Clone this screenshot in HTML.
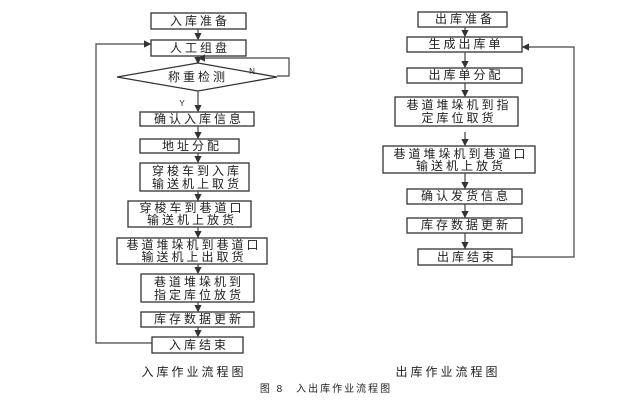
<!DOCTYPE html>
<html><head><meta charset="utf-8"><style>
html,body{margin:0;padding:0;background:#fff;}
svg{display:block;}
text{font-family:"Liberation Sans","Noto Sans CJK SC",sans-serif;font-size:12px;letter-spacing:3px;fill:#222;text-anchor:middle;}
.b{fill:#fff;stroke:#333;stroke-width:1.3;}
.l{stroke:#444;stroke-width:1.2;fill:none;}
</style></head><body>
<svg width="640" height="400" viewBox="0 0 640 400">
<defs><marker id="a" markerWidth="6" markerHeight="6" refX="5" refY="3" orient="auto"><path d="M0,0 L6,3 L0,6 Z" fill="#333"/></marker></defs>
<!-- LEFT -->
<rect class="b" x="151" y="13" width="95" height="16"/><text x="200" y="25">入库准备</text>
<line class="l" x1="198" y1="29" x2="198" y2="39" marker-end="url(#a)"/>
<rect class="b" x="151" y="40" width="95" height="16"/><text x="200" y="52">人工组盘</text>
<line class="l" x1="198" y1="56" x2="198" y2="63" marker-end="url(#a)"/>
<polygon class="b" points="117,77 198,63 277,77 198,91"/><text x="198" y="81">称重检测</text>
<polyline class="l" points="277,76 289,76 289,58 199,58" marker-end="url(#a)"/>
<text x="252" y="74" style="font-size:8px;letter-spacing:0">N</text>
<line class="l" x1="198" y1="91" x2="198" y2="111" marker-end="url(#a)"/>
<text x="182" y="106" style="font-size:8px;letter-spacing:0">Y</text>
<rect class="b" x="140" y="112" width="114" height="14"/><text x="199" y="123">确认入库信息</text>
<line class="l" x1="198" y1="126" x2="198" y2="138" marker-end="url(#a)"/>
<rect class="b" x="140" y="139" width="99" height="14"/><text x="192" y="150">地址分配</text>
<line class="l" x1="198" y1="153" x2="198" y2="162" marker-end="url(#a)"/>
<rect class="b" x="140" y="163" width="109" height="28"/><text x="197" y="175">穿梭车到入库</text><text x="197" y="188">输送机上取货</text>
<line class="l" x1="198" y1="191" x2="198" y2="200" marker-end="url(#a)"/>
<rect class="b" x="128" y="201" width="123" height="26"/><text x="192" y="212">穿梭车到巷道口</text><text x="192" y="224">输送机上放货</text>
<line class="l" x1="198" y1="227" x2="198" y2="237" marker-end="url(#a)"/>
<rect class="b" x="117" y="238" width="150" height="26"/><text x="194" y="249">巷道堆垛机到巷道口</text><text x="194" y="261">输送机上出取货</text>
<line class="l" x1="198" y1="264" x2="198" y2="273" marker-end="url(#a)"/>
<rect class="b" x="141" y="274" width="113" height="28"/><text x="199" y="286">巷道堆垛机到</text><text x="199" y="299">指定库位放货</text>
<line class="l" x1="198" y1="302" x2="198" y2="311" marker-end="url(#a)"/>
<rect class="b" x="141" y="312" width="113" height="15"/><text x="199" y="323">库存数据更新</text>
<line class="l" x1="198" y1="327" x2="198" y2="336" marker-end="url(#a)"/>
<rect class="b" x="152" y="337" width="91" height="16"/><text x="199" y="349">入库结束</text>
<polyline class="l" points="152,343 96,343 96,44 150,44" marker-end="url(#a)"/>
<text x="194" y="376">入库作业流程图</text>
<!-- RIGHT -->
<rect class="b" x="418" y="12" width="89" height="15"/><text x="465" y="23">出库准备</text>
<line class="l" x1="465" y1="27" x2="465" y2="36" marker-end="url(#a)"/>
<rect class="b" x="407" y="37" width="115" height="15"/><text x="466" y="48">生成出库单</text>
<line class="l" x1="465" y1="52" x2="465" y2="67" marker-end="url(#a)"/>
<rect class="b" x="407" y="68" width="115" height="15"/><text x="466" y="79">出库单分配</text>
<line class="l" x1="465" y1="83" x2="465" y2="96" marker-end="url(#a)"/>
<rect class="b" x="395" y="97" width="123" height="29"/><text x="459" y="109">巷道堆垛机到指</text><text x="459" y="122">定库位取货</text>
<line class="l" x1="465" y1="132" x2="465" y2="145" marker-end="url(#a)"/>
<rect class="b" x="383" y="146" width="152" height="27"/><text x="461" y="158">巷道堆垛机到巷道口</text><text x="461" y="170">输送机上放货</text>
<line class="l" x1="465" y1="173" x2="465" y2="188" marker-end="url(#a)"/>
<rect class="b" x="407" y="189" width="115" height="15"/><text x="466" y="200">确认发货信息</text>
<line class="l" x1="465" y1="204" x2="465" y2="217" marker-end="url(#a)"/>
<rect class="b" x="407" y="218" width="115" height="15"/><text x="466" y="229">库存数据更新</text>
<line class="l" x1="465" y1="233" x2="465" y2="248" marker-end="url(#a)"/>
<rect class="b" x="418" y="249" width="94" height="16"/><text x="467" y="261">出库结束</text>
<polyline class="l" points="512,257 574,257 574,47 523,47" marker-end="url(#a)"/>
<text x="448" y="376">出库作业流程图</text>
<text x="326" y="392" style="font-size:10px;letter-spacing:2px">图 8　入出库作业流程图</text>
</svg>
</body></html>
